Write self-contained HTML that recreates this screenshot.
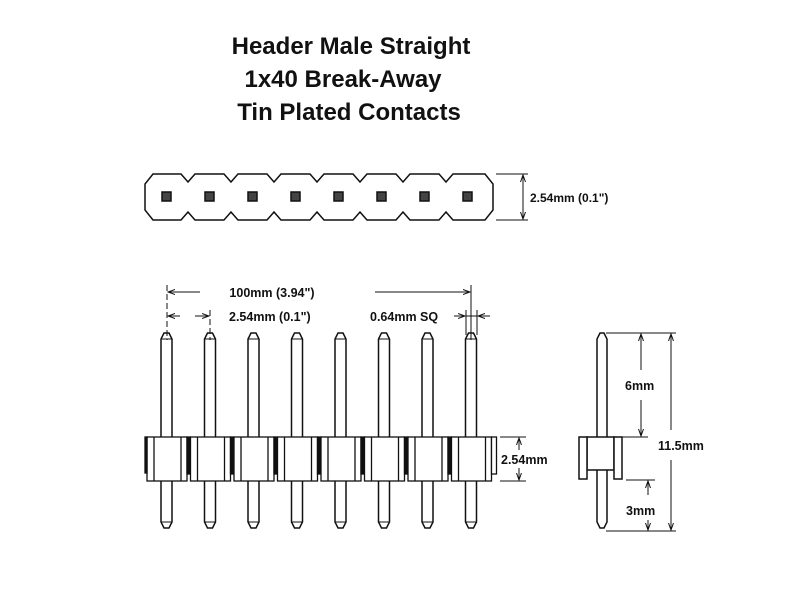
<!DOCTYPE html>
<html><head><style>body{margin:0;background:#fff}svg{display:block}text{font-family:"Liberation Sans",Arial,sans-serif;font-weight:bold;fill:#111}</style></head>
<body>
<svg width="800" height="600" viewBox="0 0 800 600" xmlns="http://www.w3.org/2000/svg">
<defs>
<marker id="a" markerWidth="8" markerHeight="8" refX="7" refY="4" orient="auto" markerUnits="userSpaceOnUse"><path d="M0,1.5 L7,4 L0,6.5" fill="none" stroke="#111" stroke-width="1"/></marker>
</defs>
<text x="351" y="54" font-size="24" text-anchor="middle">Header Male Straight</text>
<text x="343" y="87" font-size="24" text-anchor="middle">1x40 Break-Away</text>
<text x="349" y="120" font-size="24" text-anchor="middle">Tin Plated Contacts</text>

<!-- top strip -->
<g fill="none" stroke="#111" stroke-width="1.5">
<path d="M153,174 L181,174 L188,182 L195,174 L224,174 L231,182 L238,174 L267,174 L274,182 L281,174 L310,174 L317,182 L324,174 L353,174 L360,182 L367,174 L396,174 L403,182 L410,174 L439,174 L446,182 L453,174 L485,174 L493,184 L493,210 L485,220 L453,220 L446,212 L439,220 L410,220 L403,212 L396,220 L367,220 L360,212 L353,220 L324,220 L317,212 L310,220 L281,220 L274,212 L267,220 L238,220 L231,212 L224,220 L195,220 L188,212 L181,220 L153,220 L145,210 L145,184 Z"/>
</g>
<g fill="#444" stroke="#111" stroke-width="1.5">
<rect x="162" y="192" width="9" height="9"/><rect x="205" y="192" width="9" height="9"/><rect x="248" y="192" width="9" height="9"/><rect x="291" y="192" width="9" height="9"/><rect x="334" y="192" width="9" height="9"/><rect x="377" y="192" width="9" height="9"/><rect x="420" y="192" width="9" height="9"/><rect x="463" y="192" width="9" height="9"/>
</g>
<g stroke="#111" stroke-width="1" fill="none">
<line x1="496" y1="174" x2="528" y2="174"/><line x1="496" y1="220" x2="528" y2="220"/>
<line x1="523" y1="197" x2="523" y2="175" marker-end="url(#a)"/><line x1="523" y1="197" x2="523" y2="219" marker-end="url(#a)"/>
</g>
<text x="530" y="202" font-size="12">2.54mm (0.1")</text>

<!-- front view pins -->
<g fill="#fff" stroke="#111" stroke-width="1.5">
<g id="p">
<path d="M161,437 L161,339 L164,333 L169,333 L172,339 L172,437"/>
<line x1="161" y1="339" x2="172" y2="339" stroke-width="1"/>
<path d="M161,481 L161,522 L164,528 L169,528 L172,522 L172,481"/>
<line x1="161" y1="522" x2="172" y2="522" stroke-width="1"/>
</g>
<use href="#p" x="43.5"/><use href="#p" x="87"/><use href="#p" x="130.5"/><use href="#p" x="174"/><use href="#p" x="217.5"/><use href="#p" x="261"/><use href="#p" x="304.5"/>
</g>
<!-- body -->
<g fill="#fff" stroke="#111" stroke-width="1.3">
<g id="s">
<rect x="147" y="437" width="40" height="44"/>
<line x1="154" y1="437" x2="154" y2="481"/><line x1="181" y1="437" x2="181" y2="481"/>
<rect x="187" y="437" width="3.5" height="37" fill="#111"/>
</g>
<use href="#s" x="43.5"/><use href="#s" x="87"/><use href="#s" x="130.5"/><use href="#s" x="174"/><use href="#s" x="217.5"/><use href="#s" x="261"/>
<rect x="451.5" y="437" width="40" height="44"/>
<line x1="458.5" y1="437" x2="458.5" y2="481"/><line x1="485.5" y1="437" x2="485.5" y2="481"/>
<rect x="491.5" y="437" width="5" height="37"/>
<rect x="145" y="437" width="2" height="36" fill="#111"/>
</g>
<!-- dimensions top -->
<g stroke="#111" stroke-width="1" fill="none">
<line x1="167" y1="285" x2="167" y2="340" stroke-dasharray="6,3"/>
<line x1="210" y1="310" x2="210" y2="340" stroke-dasharray="6,3"/>
<line x1="471" y1="285" x2="471" y2="340"/>
<line x1="466" y1="310" x2="466" y2="335"/><line x1="477" y1="310" x2="477" y2="335"/>
<line x1="200" y1="292" x2="168" y2="292" marker-end="url(#a)"/>
<line x1="375" y1="292" x2="470" y2="292" marker-end="url(#a)"/>
<line x1="180" y1="316" x2="168" y2="316" marker-end="url(#a)"/>
<line x1="195" y1="316" x2="209" y2="316" marker-end="url(#a)"/>
<line x1="454" y1="316" x2="465" y2="316" marker-end="url(#a)"/>
<line x1="490" y1="316" x2="478" y2="316" marker-end="url(#a)"/>
<line x1="466" y1="316" x2="477" y2="316"/>
<line x1="500" y1="437" x2="526" y2="437"/><line x1="500" y1="481" x2="526" y2="481"/>
<line x1="519" y1="459" x2="519" y2="438" marker-end="url(#a)"/><line x1="519" y1="459" x2="519" y2="480" marker-end="url(#a)"/>
</g>
<rect x="200" y="284" width="175" height="16" fill="#fff"/>
<rect x="503" y="450" width="55" height="18" fill="#fff"/>
<text x="272" y="297" font-size="12.5" text-anchor="middle">100mm (3.94")</text>
<text x="229" y="321" font-size="12.5">2.54mm (0.1")</text>
<text x="370" y="321" font-size="12.5">0.64mm SQ</text>
<text x="501" y="464" font-size="12.5">2.54mm</text>

<!-- side view -->
<g fill="#fff" stroke="#111" stroke-width="1.5">
<path d="M597,437 L597,339 L600,333 L604,333 L607,339 L607,437"/>
<path d="M597,470 L597,522 L600,528 L604,528 L607,522 L607,470"/>
<rect x="587" y="437" width="27" height="33"/>
<rect x="579" y="437" width="8" height="42"/>
<rect x="614" y="437" width="8" height="42"/>
</g>
<g stroke="#111" stroke-width="1" fill="none">
<line x1="606" y1="333" x2="676" y2="333"/>
<line x1="622" y1="437" x2="648" y2="437"/>
<line x1="626" y1="480" x2="655" y2="480"/>
<line x1="606" y1="531" x2="676" y2="531"/>
<line x1="641" y1="370" x2="641" y2="334" marker-end="url(#a)"/><line x1="641" y1="400" x2="641" y2="436" marker-end="url(#a)"/>
<line x1="671" y1="430" x2="671" y2="334" marker-end="url(#a)"/><line x1="671" y1="460" x2="671" y2="530" marker-end="url(#a)"/>
<line x1="648" y1="495" x2="648" y2="481" marker-end="url(#a)"/><line x1="648" y1="520" x2="648" y2="530" marker-end="url(#a)"/>
</g>
<rect x="626" y="376" width="34" height="18" fill="#fff"/>
<rect x="656" y="436" width="58" height="18" fill="#fff"/>
<rect x="626" y="501" width="34" height="18" fill="#fff"/>
<text x="625" y="390" font-size="12.5">6mm</text>
<text x="658" y="450" font-size="12.5">11.5mm</text>
<text x="626" y="515" font-size="12.5">3mm</text>
</svg>
</body></html>
